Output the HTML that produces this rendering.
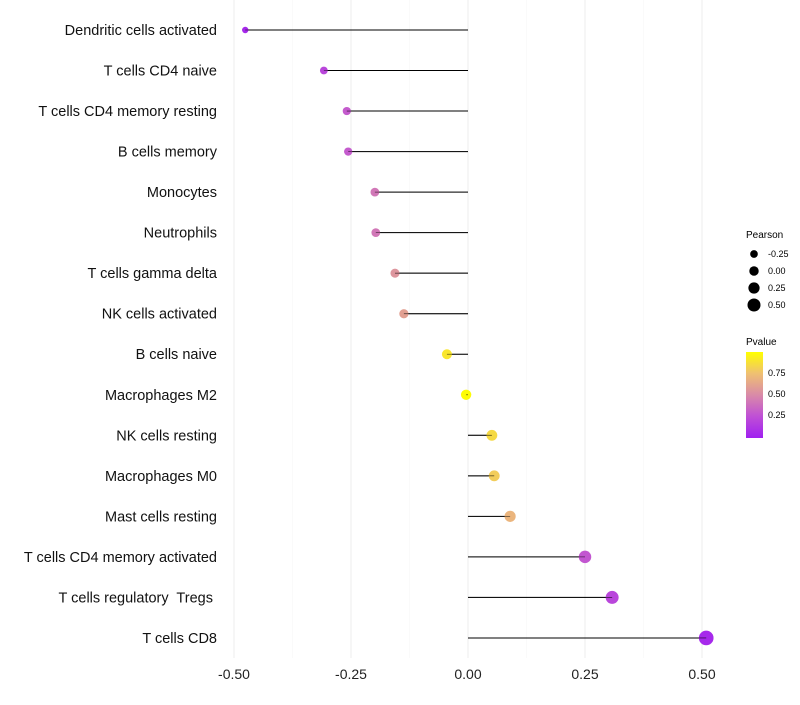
<!DOCTYPE html>
<html><head><meta charset="utf-8"><style>
body{margin:0;background:#fff;font-family:"Liberation Sans",sans-serif}
text{white-space:pre}
</style></head><body>
<svg id="chart" width="800" height="700" xmlns="http://www.w3.org/2000/svg">
<defs><linearGradient id="pg" x1="0" y1="1" x2="0" y2="0">
<stop offset="0" stop-color="#a020f0"/><stop offset="0.25" stop-color="#bf4fd6"/><stop offset="0.5" stop-color="#d98aa8"/><stop offset="0.75" stop-color="#efc072"/><stop offset="1" stop-color="#ffff00"/></linearGradient></defs>
<g id="grid"></g><g id="marks"></g><g id="labels"></g>
<g font-size="9" fill="#000">
<text x="746" y="238" font-size="10">Pearson</text>
<g id="sizeleg"></g>
<text x="746" y="345" font-size="10">Pvalue</text>
<rect x="746" y="352" width="17" height="86" fill="url(#pg)"/>
<text x="768" y="376">0.75</text><text x="768" y="397">0.50</text><text x="768" y="418">0.25</text>
</g>
</svg>
<script>
const categories=["Dendritic cells activated","T cells CD4 naive","T cells CD4 memory resting","B cells memory","Monocytes","Neutrophils","T cells gamma delta","NK cells activated","B cells naive","Macrophages M2","NK cells resting","Macrophages M0","Mast cells resting","T cells CD4 memory activated","T cells regulatory  Tregs ","T cells CD8"];
const pearson=[-0.476,-0.308,-0.259,-0.256,-0.199,-0.197,-0.156,-0.137,-0.045,-0.004,0.051,0.056,0.090,0.250,0.308,0.509];
const pvalues=[0.05,0.2,0.3,0.3,0.42,0.42,0.55,0.6,0.9,0.99,0.85,0.8,0.7,0.28,0.2,0.05];
const xTicks=[-0.5,-0.25,0,0.25,0.5];
const xTickLabels=["-0.50","-0.25","0.00","0.25","0.50"];
const sizeLegend=[-0.25,0,0.25,0.5];
const NS="http://www.w3.org/2000/svg";
const xs=v=>468+v*468;
const ys=i=>30+i*40.53;
const rs=v=>Math.max(2,5.2+v*4.2);
function mk(t,a,p){const e=document.createElementNS(NS,t);for(const k in a)e.setAttribute(k,a[k]);p.appendChild(e);return e;}
function lerp(a,b,t){return a.map((x,i)=>Math.round(x+(b[i]-x)*t));}
const stops=[[0,[160,32,240]],[0.25,[191,79,214]],[0.5,[217,138,168]],[0.75,[239,192,114]],[1,[255,255,0]]];
function col(p){for(let i=1;i<stops.length;i++){if(p<=stops[i][0]){const t=(p-stops[i-1][0])/(stops[i][0]-stops[i-1][0]);const c=lerp(stops[i-1][1],stops[i][1],t);return `rgb(${c})`;}}return "rgb(255,255,0)";}
const grid=document.getElementById('grid'),marks=document.getElementById('marks'),labels=document.getElementById('labels');
[-0.375,-0.125,0.125,0.375].forEach(v=>{const l=mk('line',{x1:xs(v),x2:xs(v),y1:0,y2:658,stroke:'#f6f6f6','stroke-width':0.6},grid);});
xTicks.forEach((v,i)=>{const l=mk('line',{x1:xs(v),x2:xs(v),y1:0,y2:658,stroke:'#ececec','stroke-width':1},grid);
const t=mk('text',{x:xs(v),y:679,'text-anchor':'middle','font-size':14,fill:'#222'},labels);t.textContent=xTickLabels[i];});
categories.forEach((c,i)=>{const y=ys(i);
const t=mk('text',{x:217,y:y+5,'text-anchor':'end','font-size':14.5,fill:'#111'},labels);t.textContent=c;
const l=mk('line',{x1:xs(0),x2:xs(pearson[i]),y1:y,y2:y,stroke:'#000','stroke-width':1},marks);
const d=mk('circle',{cx:xs(pearson[i]),cy:y,r:rs(pearson[i]),fill:col(pvalues[i])},marks);
const l2=mk('line',{x1:xs(0),x2:xs(pearson[i]),y1:y,y2:y,stroke:'#000','stroke-width':0.8,'stroke-opacity':0.6},marks);});
const sl=document.getElementById('sizeleg');
sizeLegend.forEach((v,i)=>{const y=254+i*17;const c=mk('circle',{cx:754,cy:y,r:rs(v)*0.85+0.3,fill:'#000'},sl);
const t=mk('text',{x:768,y:y+3,'font-size':9},sl);t.textContent=v===0?"0.00":v.toFixed(2);});
</script>
</body></html>
